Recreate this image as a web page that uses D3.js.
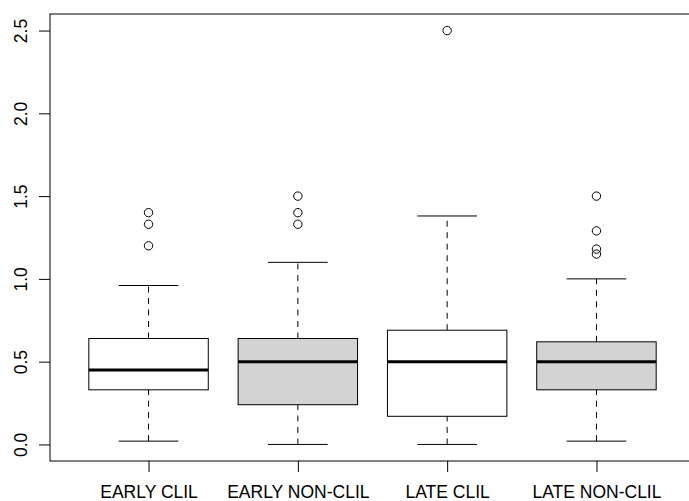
<!DOCTYPE html>
<html>
<head>
<meta charset="utf-8">
<script src="https://cdn.jsdelivr.net/npm/d3@7"></script>
<style>
  body { margin: 0; background: #fff; }
</style>
</head>
<body>
<div id="chart"></div>
<script>
const groups = ["EARLY CLIL", "EARLY NON-CLIL", "LATE CLIL", "LATE NON-CLIL"];
const whiskerLow = [0.02, 0.0, 0.0, 0.02];
const q1 = [0.33, 0.24, 0.17, 0.33];
const medians = [0.45, 0.50, 0.50, 0.50];
const q3 = [0.64, 0.64, 0.69, 0.62];
const whiskerHigh = [0.96, 1.10, 1.38, 1.00];
const outliers = [
  [1.2, 1.33, 1.4],
  [1.33, 1.4, 1.5],
  [2.5],
  [1.15, 1.18, 1.29, 1.5]
];
const fills = ["#ffffff", "#d3d3d3", "#ffffff", "#d3d3d3"];
const yTicks = [0, 0.5, 1.0, 1.5, 2.0, 2.5];

const width = 689;
const height = 501;
const plot = { left: 50, top: 14, right: 695, bottom: 461 };
const fontSize = "17.5px";

const x = d3.scaleLinear()
  .domain([0.34, groups.length + 0.66])
  .range([plot.left, plot.right]);

const y = d3.scaleLinear()
  .domain([-0.1, 2.6])
  .range([plot.bottom, plot.top]);

const svg = d3.select("#chart")
  .append("svg")
  .attr("width", width)
  .attr("height", height)
  .style("font-family", "'Liberation Sans', Arial, sans-serif");

const boxW = x(0.8) - x(0);
const capW = boxW / 2;

groups.forEach((g, i) => {
  const cx = x(i + 1);

  // whiskers (dashed)
  [[whiskerLow[i], q1[i]], [q3[i], whiskerHigh[i]]].forEach(([a, b]) => {
    svg.append("line")
      .attr("x1", cx).attr("x2", cx)
      .attr("y1", y(a)).attr("y2", y(b))
      .attr("stroke", "#000")
      .attr("stroke-dasharray", "6,5.5");
  });

  // staples
  [whiskerLow[i], whiskerHigh[i]].forEach(v => {
    svg.append("line")
      .attr("x1", cx - capW / 2).attr("x2", cx + capW / 2)
      .attr("y1", y(v)).attr("y2", y(v))
      .attr("stroke", "#000");
  });

  // box
  svg.append("rect")
    .attr("x", cx - boxW / 2)
    .attr("y", y(q3[i]))
    .attr("width", boxW)
    .attr("height", y(q1[i]) - y(q3[i]))
    .attr("fill", fills[i])
    .attr("stroke", "#000");

  // median
  svg.append("line")
    .attr("x1", cx - boxW / 2).attr("x2", cx + boxW / 2)
    .attr("y1", y(medians[i])).attr("y2", y(medians[i]))
    .attr("stroke", "#000")
    .attr("stroke-width", 3);

  // outliers
  outliers[i].forEach(v => {
    svg.append("circle")
      .attr("cx", cx)
      .attr("cy", y(v))
      .attr("r", 4.2)
      .attr("fill", "none")
      .attr("stroke", "#000");
  });
});

// plot frame
svg.append("rect")
  .attr("x", plot.left)
  .attr("y", plot.top)
  .attr("width", plot.right - plot.left)
  .attr("height", plot.bottom - plot.top)
  .attr("fill", "none")
  .attr("stroke", "#000");

// y axis
const yAxis = svg.append("g")
  .attr("transform", `translate(${plot.left},0)`)
  .call(d3.axisLeft(y).tickValues(yTicks).tickFormat(d3.format(".1f")).tickSize(11).tickSizeOuter(0));
yAxis.select(".domain").remove();
yAxis.selectAll("line").attr("stroke", "#000");
yAxis.selectAll("text")
  .attr("font-size", fontSize)
  .attr("font-family", "'Liberation Sans', Arial, sans-serif")
  .attr("fill", "#000")
  .attr("x", null).attr("dy", null)
  .attr("text-anchor", "middle")
  .attr("transform", "translate(-23.5,0) rotate(-90)");

// x axis
const xAxis = svg.append("g")
  .attr("transform", `translate(0,${plot.bottom})`)
  .call(d3.axisBottom(x).tickValues(d3.range(1, groups.length + 1))
    .tickFormat(d => groups[d - 1]).tickSize(11).tickSizeOuter(0));
xAxis.select(".domain").remove();
xAxis.selectAll("line").attr("stroke", "#000");
xAxis.selectAll("text")
  .attr("font-size", fontSize)
  .attr("font-family", "'Liberation Sans', Arial, sans-serif")
  .attr("fill", "#000")
  .attr("y", 37).attr("dy", null);
</script>
</body>
</html>
